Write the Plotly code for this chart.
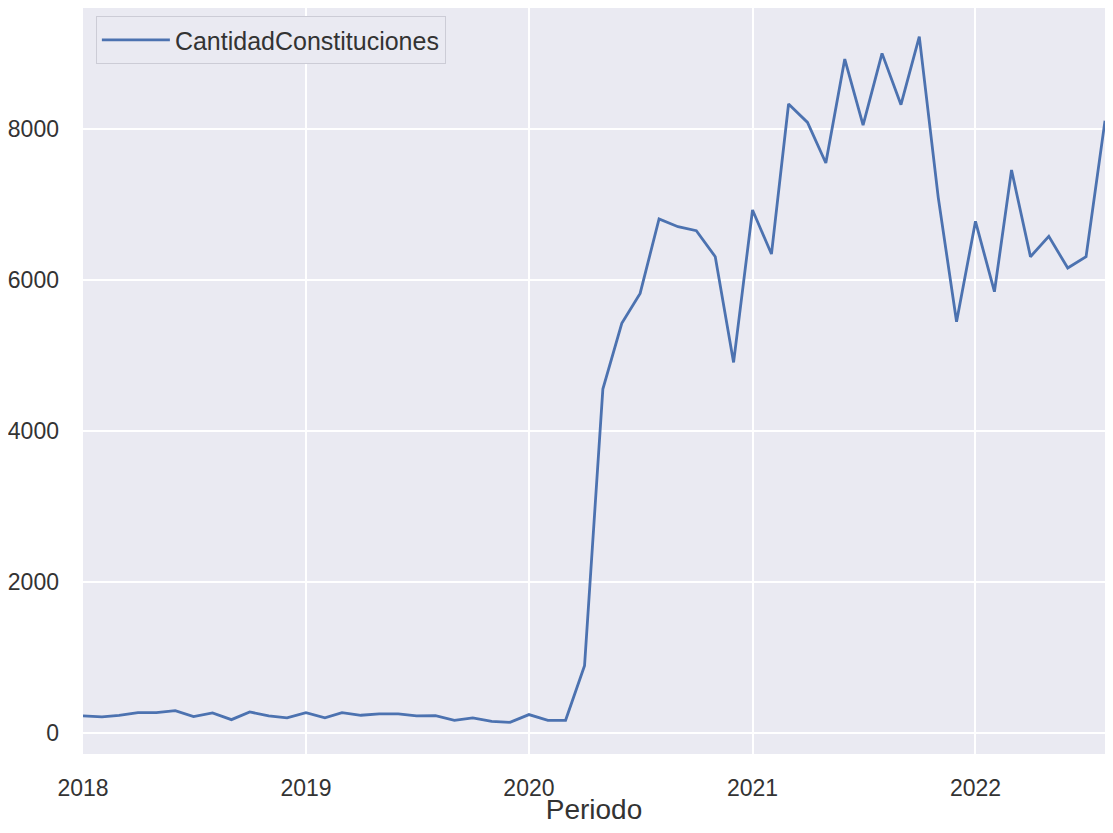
import pandas as pd
import plotly.graph_objects as go

# monthly counts, Jan 2018 .. Aug 2022
periodo = pd.date_range("2018-01-01", periods=56, freq="MS")
cantidad = [
    226, 213, 235, 270, 270, 297, 217, 266, 177, 279, 226, 200,
    270, 200, 270, 235, 253, 253, 226, 231, 168, 200, 155, 142,
    244, 168, 168, 890, 4556, 5426, 5823, 6808, 6706, 6653, 6309, 4909,
    6927, 6344, 8331, 8088, 7550, 8927, 8053, 9002, 8322, 9223, 7095, 5448,
    6777, 5845, 7457, 6309, 6578, 6159, 6309, 8110,
]
serie = "CantidadConstituciones"

fig = go.Figure()
fig.add_trace(go.Scatter(x=periodo, y=cantidad, mode="lines", name=serie,
                         line=dict(color="#4C72B0", width=2.8)))

# page body has an 8px margin, so the figure is a bit smaller than the window
font_fam = "Liberation Sans, Arial, sans-serif"
fig.update_layout(
    width=1097, height=817,
    margin=dict(l=75, r=0, t=0, b=71, autoexpand=False),
    paper_bgcolor="white", plot_bgcolor="#EAEAF2",
    font=dict(family=font_fam, size=23, color="#333333"),
    showlegend=True,
    legend=dict(x=0.0126, y=0.989, xanchor="left", yanchor="top",
                bgcolor="#EAEAF2", bordercolor="#CCCCD6", borderwidth=1,
                itemwidth=68,
                font=dict(size=25, color="#333333")),
)
fig.update_xaxes(
    range=["2018-01-01", "2022-08-01"], dtick="M12", tickformat="%Y",
    showgrid=True, gridcolor="white", gridwidth=2, showline=False,
    zeroline=False, ticks="", ticklabelstandoff=18, automargin=False,
    title=dict(text="Periodo", font=dict(size=28), standoff=12),
)
fig.update_yaxes(
    range=[-278, 9603], tickvals=[0, 2000, 4000, 6000, 8000],
    showgrid=True, gridcolor="white", gridwidth=2, showline=False,
    zeroline=False, ticks="", ticklabelstandoff=23, automargin=False,
)

fig.write_html("out.html")
